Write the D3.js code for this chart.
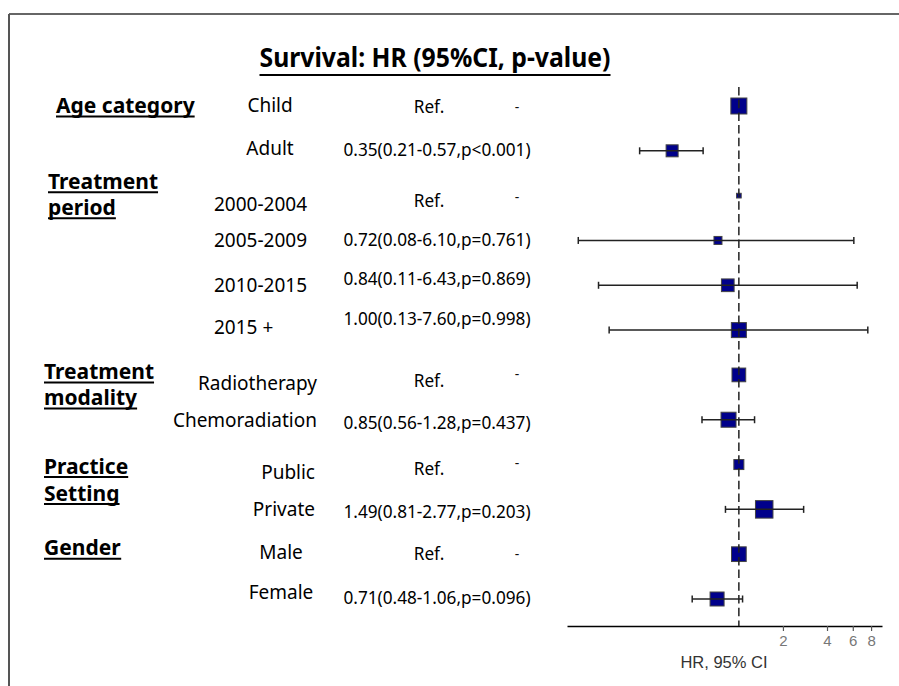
<!DOCTYPE html>
<html><head><meta charset="utf-8">
<script src="https://cdn.jsdelivr.net/npm/d3@7"></script>
<style>body{margin:0;background:#fff}svg{display:block}</style>
</head><body><svg id="c" width="899" height="686"></svg>
<script>
// ---------------- data ----------------
const rowLabels = ["Child","Adult","2000-2004","2005-2009","2010-2015","2015 +","Radiotherapy","Chemoradiation","Public","Private","Male","Female"];
const isRef   = [true,false,true,false,false,false,true,false,true,false,true,false];
const hr      = [1,0.35,1,0.72,0.84,1.00,1,0.85,1,1.49,1,0.71];
const ciLow   = [1,0.21,1,0.08,0.11,0.13,1,0.56,1,0.81,1,0.48];
const ciHigh  = [1,0.57,1,6.10,6.43,7.60,1,1.28,1,2.77,1,1.06];
const pText   = [null,"p<0.001",null,"p=0.761","p=0.869","p=0.998",null,"p=0.437",null,"p=0.203",null,"p=0.096"];
const weights = [25.6,14.4,2.2,6.4,16.1,22.5,18.8,22.5,10.0,30.6,21.6,19.6];
const groupNames = [["Age category"],["Treatment","period"],["Treatment","modality"],["Practice","Setting"],["Gender"]];
const groupFirstRow = [0,2,6,8,10];
const xTicks = [2,4,6,8];
const titleText = "Survival: HR (95%CI, p-value)";
const axisLabel = "HR, 95% CI";

// ---------------- layout (not data) ----------------
const W = 899, H = 686;
const groupDy = [[7],[-7,19],[4,30],[9,36],[1]];
const groupX  = [56,48,44,44,44];
const subLabelPos = [{x:270,a:"middle"},{x:214,a:"start"},{x:317,a:"end"},{x:315,a:"end"},{x:281,a:"middle"}];
const labelDy = [6,4,15.5,7,7,4,15.5,7,14,7,5,0];
const textDy  = [7,5,11,6,0,-5,12,9,10,9,6,5];
const dashDy  = [5.5,null,6.5,null,null,null,4.5,null,3.5,null,4.5,null];

const svg = d3.select("#c");
svg.append("rect").attr("width",W).attr("height",H).attr("fill","#fff");

// frame (top + left)
svg.append("line").attr("x1",9).attr("x2",W).attr("y1",14).attr("y2",14).attr("stroke","#333").attr("stroke-width",1.6);
svg.append("line").attr("x1",9).attr("x2",9).attr("y1",14).attr("y2",H).attr("stroke","#555").attr("stroke-width",2);

// scales
const x = d3.scaleLog().domain([0.067, 9.5]).range([567, 882]);
const y = d3.scalePoint().domain(d3.range(rowLabels.length)).range([106, 599]);
const side = d3.scaleSqrt().domain([0, d3.max(weights)]).range([0, 17.5]);

function underline(sel, off, w) {
  const bb = sel.node().getBBox();
  const by = +sel.attr("y");
  svg.append("line").attr("x1",bb.x).attr("x2",bb.x+bb.width)
    .attr("y1",by+off).attr("y2",by+off).attr("stroke","#000").attr("stroke-width",w);
}

// title
const t = svg.append("text").attr("x",435).attr("y",67).attr("text-anchor","middle")
  .attr("font-family","'Noto Sans'").attr("font-weight","bold").attr("font-size",27)
  .attr("textLength",351).attr("lengthAdjust","spacingAndGlyphs").attr("fill","#000").text(titleText);
underline(t, 8, 2);

// group labels
groupNames.forEach((lines,gi)=>{
  lines.forEach((ln,li)=>{
    const s = svg.append("text").attr("x",groupX[gi]).attr("y",y(groupFirstRow[gi])+groupDy[gi][li])
      .attr("font-family","'Noto Sans'").attr("font-weight","bold").attr("font-size",21)
      .attr("fill","#000").text(ln);
    underline(s, 3.5, 2);
  });
});

// sub labels
const groupOf = i => d3.bisectRight(groupFirstRow, i) - 1;
svg.append("g").selectAll("text").data(rowLabels).join("text")
  .attr("x",(d,i)=>subLabelPos[groupOf(i)].x)
  .attr("text-anchor",(d,i)=>subLabelPos[groupOf(i)].a)
  .attr("y",(d,i)=>y(i)+labelDy[i])
  .attr("font-family","'Noto Sans'").attr("font-size",19).attr("fill","#000")
  .text(d=>d);

// HR text column
const f2 = d3.format(".2f");
svg.append("g").selectAll("text").data(rowLabels).join("text")
  .attr("x",(d,i)=>isRef[i]?429:437)
  .attr("text-anchor","middle")
  .attr("y",(d,i)=>y(i)+textDy[i])
  .attr("font-family","'Noto Sans'").attr("font-size",17.2).attr("fill","#000")
  .text((d,i)=> isRef[i] ? "Ref." : `${f2(hr[i])}(${f2(ciLow[i])}-${f2(ciHigh[i])},${pText[i]})`);
svg.append("g").selectAll("text").data(rowLabels.map((d,i)=>i).filter(i=>isRef[i])).join("text")
  .attr("x",517).attr("text-anchor","middle")
  .attr("y",i=>y(i)+dashDy[i])
  .attr("font-family","'Noto Sans'").attr("font-size",14).attr("fill","#111").text("-");

// axis
const ax = svg.append("g").attr("transform","translate(0,626)")
  .call(d3.axisBottom(x).tickValues(xTicks).tickSize(5).tickSizeOuter(0).tickFormat(d3.format("d")));
ax.select(".domain").attr("stroke","#000").attr("stroke-width",1.5);
ax.selectAll(".tick line").attr("stroke","#555").attr("stroke-width",1.2);
ax.selectAll(".tick text").attr("y",20).attr("dy",0).attr("fill","#777")
  .attr("font-family","'Liberation Sans'").attr("font-size",15);
svg.append("text").attr("x",724).attr("y",668).attr("text-anchor","middle")
  .attr("font-family","'Liberation Sans'").attr("font-size",16.5).attr("fill","#333").text(axisLabel);

// squares
const idx = d3.range(rowLabels.length);
svg.append("g").selectAll("rect").data(idx).join("rect")
  .attr("x",i=>x(hr[i])-side(weights[i])/2)
  .attr("y",i=>y(i)-side(weights[i])/2)
  .attr("width",i=>side(weights[i])).attr("height",i=>side(weights[i]))
  .attr("fill","#00008b").attr("stroke","#444").attr("stroke-width",1);

// CI lines
const ciIdx = idx.filter(i=>!isRef[i]);
const ci = svg.append("g").attr("stroke","#222").attr("stroke-width",1.5);
ci.selectAll("line.h").data(ciIdx).join("line").attr("class","h")
  .attr("x1",i=>x(ciLow[i])).attr("x2",i=>x(ciHigh[i])).attr("y1",i=>y(i)).attr("y2",i=>y(i));
ci.selectAll("line.l").data(ciIdx).join("line").attr("class","l")
  .attr("x1",i=>x(ciLow[i])).attr("x2",i=>x(ciLow[i])).attr("y1",i=>y(i)-3.5).attr("y2",i=>y(i)+3.5);
ci.selectAll("line.r").data(ciIdx).join("line").attr("class","r")
  .attr("x1",i=>x(ciHigh[i])).attr("x2",i=>x(ciHigh[i])).attr("y1",i=>y(i)-3.5).attr("y2",i=>y(i)+3.5);

// reference line at HR = 1
svg.append("line").attr("x1",x(1)).attr("x2",x(1)).attr("y1",87).attr("y2",626)
  .attr("stroke","#222").attr("stroke-width",1.5).attr("stroke-dasharray","8.5,4.2");
</script></body></html>
